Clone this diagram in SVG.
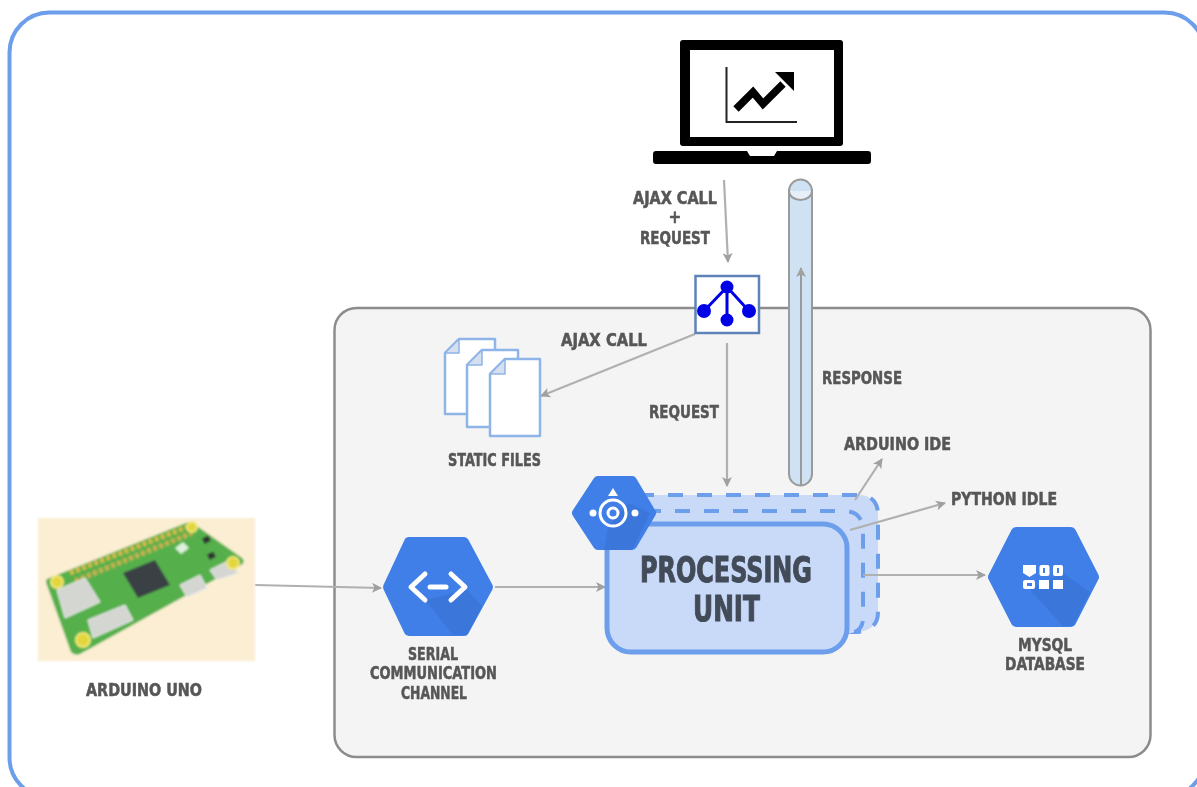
<svg xmlns="http://www.w3.org/2000/svg" width="1197" height="787" viewBox="0 0 1197 787">
<style>
text{font-family:"DejaVu Sans Condensed","DejaVu Sans",sans-serif;font-weight:700;font-stretch:condensed;fill:#575757;stroke:#575757;stroke-width:.5;font-size:17px}
.big{font-size:35px;fill:#434b59;stroke:#434b59;stroke-width:1}
.c{stroke:#b0b0b0;stroke-width:2.200;fill:none;marker-end:url(#a)}
.hex{fill:#3f7fe8;stroke:#3f7fe8;stroke-width:10;stroke-linejoin:round}
.sh{fill:#3468c8;opacity:.4}
.pg{fill:#fff;stroke:#8fb4e8;stroke-width:2.500;stroke-linejoin:round}
.dog{fill:#d5dff0;stroke:#8fb4e8;stroke-width:1.500;stroke-linejoin:round}
.dash{fill:#c9daf8;stroke:#6d9eeb;stroke-width:4;stroke-dasharray:15 14}
.w{fill:#fff}
.ws{fill:none;stroke:#fff;stroke-linecap:round;stroke-linejoin:round}
.port{fill:#d4d6d2;stroke:#eee;stroke-width:1}
.hole{fill:#e3d63c;stroke:#f1e77a;stroke-width:2}
</style>
<defs>
<marker id="a" markerWidth="11" markerHeight="10" refX="9" refY="5" orient="auto" markerUnits="userSpaceOnUse"><path d="M0 0L10 5L0 10L2.500 5Z" fill="#a0a0a0"/></marker>
<filter id="b" x="-5%" y="-5%" width="110%" height="110%"><feGaussianBlur stdDeviation=".6"/></filter>
<filter id="b2" x="-5%" y="-5%" width="110%" height="110%"><feGaussianBlur stdDeviation="1"/></filter>
</defs>
<rect width="1197" height="787" fill="#fff"/>
<g filter="url(#b)">
<rect id="frame" x="9.500" y="12.500" width="1195" height="785" rx="40" fill="#fff" stroke="#6d9eeb" stroke-width="4"/>
<rect id="panel" x="334.500" y="308" width="816" height="449" rx="22" fill="#f4f4f4" stroke="#8c8c8c" stroke-width="2.500"/>

<g id="laptop">
<rect x="680" y="40" width="163" height="106" rx="3" fill="#000"/>
<rect x="690" y="50" width="144" height="87" fill="#fff"/>
<path d="M653 154q0-3 3-3H747l3 5h24l3-5H868q3 0 3 3v7q0 3-3 3H656q-3 0-3-3Z" fill="#000"/>
<path d="M726.500 67V122H797" fill="none" stroke="#222" stroke-width="2"/>
<path d="M736 109L753 92L763 104L783 84" fill="none" stroke="#000" stroke-width="7.500"/>
<path d="M775 72H794V91Z" fill="#000"/>
</g>

<g id="connectors">
<path class="c" d="M724 180L728 262"/>
<path class="c" d="M695 334L541 396"/>
<path class="c" d="M727 343V486"/>
<path class="c" d="M255 585L381 588"/>
<path class="c" d="M495 587H605"/>
</g>

<g id="processing-unit">
<path class="dash" d="M610 495H858Q878 495 878 515V612Q878 630 858 632H640Z"/>
<path class="dash" stroke-dashoffset="8" d="M625 511H843Q863 511 863 531V618Q863 634 843 634H640Z"/>
<rect x="607" y="524" width="240" height="128" rx="24" fill="#c9daf8" stroke="#6d9eeb" stroke-width="5"/>
<text class="big" x="726" y="582" text-anchor="middle" textLength="172" lengthAdjust="spacingAndGlyphs">PROCESSING</text>
<text class="big" x="726.500" y="621" text-anchor="middle" textLength="67" lengthAdjust="spacingAndGlyphs">UNIT</text>
</g>

<g id="connectors-2">
<path class="c" d="M855 500L882 459"/>
<path class="c" d="M850 530L945 503"/>
<path class="c" d="M863 575H985"/>
</g>

<g id="compute-hex">
<path class="hex" d="M577 513L598 481H632L651 513L632 545H598Z"/>
<path class="sh" d="M608 527L628 503L650 513L632 550H604Z"/>
<path d="M613 488l5 8h-10Z" class="w"/>
<circle cx="613" cy="513" r="13" class="ws" stroke-width="3"/>
<circle cx="613" cy="513" r="5" class="ws" stroke-width="3"/>
<circle cx="593" cy="513" r="3.500" class="w"/>
<circle cx="635" cy="513" r="3.500" class="w"/>
</g>

<g id="cylinder">
<path d="M789 191a11.500 11.500 0 0 1 23 0V474a11.500 11.500 0 0 1-23 0Z" fill="#cfe2f3" stroke="#9a9a9a" stroke-width="2"/>
<path d="M789 191a11.500 9 0 0 0 23 0" fill="#e6eff8" stroke="#9a9a9a" stroke-width="2"/>
<path d="M801 485V268" stroke="#9a9a9a" stroke-width="2" fill="none" marker-end="url(#a)"/>
</g>

<g id="hub">
<rect x="695.500" y="276" width="63.500" height="57" fill="#fff" stroke="#5f82b8" stroke-width="2.500"/>
<path d="M727 287L704 311M727 287L749 311M727 287V320" stroke="#0000e6" stroke-width="3" fill="none"/>
<circle cx="727" cy="287" r="6.500" fill="#0000e6"/>
<circle cx="704" cy="311" r="7" fill="#0000e6"/>
<circle cx="749" cy="311" r="7" fill="#0000e6"/>
<circle cx="727" cy="320" r="6.500" fill="#0000e6"/>
</g>

<g id="static-files">
<path class="pg" d="M459 339H495V414H445V353Z"/><path class="dog" d="M459 339V353H445Z"/>
<path class="pg" d="M482 350H518V427H467V365Z"/><path class="dog" d="M482 350V365H467Z"/>
<path class="pg" d="M505 359H540V436H490V374Z"/><path class="dog" d="M505 359V374H490Z"/>
</g>

<g id="serial-hex">
<path class="hex" d="M388 587L409 542H464L488 587L464 631H409Z"/>
<path class="sh" d="M425 600L467 590L482 606L467 635H453Z"/>
<path class="ws" stroke-width="5" d="M425 574L411 587L425 600M451 574L465 587L451 600"/>
<path class="ws" stroke-width="5" d="M430 587H446"/>
</g>

<g id="mysql-hex">
<path class="hex" d="M993 577L1016 532H1071L1094 577L1071 622H1016Z"/>
<path class="sh" d="M1030 590L1063 573L1090 592L1073 626H1063Z"/>
<path class="w" d="M1023 565H1036V573L1029.500 577L1023 573Z"/>
<rect x="1039.500" y="565" width="10" height="11" rx="2" class="w"/>
<rect x="1053" y="565" width="10" height="11" rx="2" class="w"/>
<rect x="1023" y="580" width="12" height="9" rx="2" class="w"/>
<rect x="1039" y="580" width="10" height="9" class="w"/>
<rect x="1053" y="580" width="10" height="9" class="w"/>
<path d="M1044 568v5M1058 568v5" stroke="#3f7fe8" stroke-width="2"/>
<rect x="1027" y="583" width="5" height="3" fill="#3f7fe8"/>
</g>
</g>

<g id="arduino" filter="url(#b2)">
<rect x="38" y="518" width="217" height="143" fill="#fbeed2"/>
<path d="M47 579L186 523Q190 521 194 524L242 558Q246 562 241 565L80 654Q75 656 71 652L47 585Q45 581 47 579Z" fill="#55b04b"/>
<path d="M70 573L187 527" stroke="#d4b94a" stroke-width="5" stroke-dasharray="4 2.500" fill="none"/>
<path d="M75 581L192 533" stroke="#c9b04e" stroke-width="5" stroke-dasharray="4 2.500" fill="none"/>
<path d="M123 573L155 560L170 585L138 598Z" fill="#3a3f44"/>
<path class="port" d="M57 590L85 578L100 602L65 618Z"/>
<path class="port" d="M88 620L125 605L133 620L93 638Z"/>
<path class="port" d="M180 585L200 575L207 588L187 597Z"/>
<path class="port" d="M210 570L230 560L238 573L217 580Z"/>
<circle cx="57" cy="582" r="6" class="hole"/>
<circle cx="83" cy="640" r="7" class="hole"/>
<circle cx="233" cy="563" r="6" class="hole"/>
<circle cx="192" cy="527" r="5" class="hole"/>
<path d="M175 548l8-6 6 6-8 6Z" fill="#dff2dc"/>
<rect x="203" y="537" width="7" height="6" fill="#333" transform="rotate(-25 206 540)"/>
<rect x="208" y="553" width="7" height="6" fill="#333" transform="rotate(-25 211 556)"/>
</g>

<g id="labels" filter="url(#b)">
<text x="675" y="204" text-anchor="middle" textLength="84" lengthAdjust="spacingAndGlyphs">AJAX CALL</text>
<text x="675" y="223" text-anchor="middle">+</text>
<text x="675" y="244" text-anchor="middle" textLength="70" lengthAdjust="spacingAndGlyphs">REQUEST</text>
<text x="604" y="346" text-anchor="middle" textLength="86" lengthAdjust="spacingAndGlyphs">AJAX CALL</text>
<text x="684" y="418" text-anchor="middle" textLength="70" lengthAdjust="spacingAndGlyphs">REQUEST</text>
<text x="862" y="384" text-anchor="middle" textLength="80" lengthAdjust="spacingAndGlyphs">RESPONSE</text>
<text x="897.500" y="450" text-anchor="middle" textLength="107" lengthAdjust="spacingAndGlyphs">ARDUINO IDE</text>
<text x="1004" y="505" text-anchor="middle" textLength="106" lengthAdjust="spacingAndGlyphs">PYTHON IDLE</text>
<text x="494.500" y="466" text-anchor="middle" textLength="93" lengthAdjust="spacingAndGlyphs">STATIC FILES</text>
<text x="433" y="660" text-anchor="middle" textLength="50" lengthAdjust="spacingAndGlyphs">SERIAL</text>
<text x="433.500" y="679" text-anchor="middle" textLength="127" lengthAdjust="spacingAndGlyphs">COMMUNICATION</text>
<text x="434" y="699" text-anchor="middle" textLength="66" lengthAdjust="spacingAndGlyphs">CHANNEL</text>
<text x="1045" y="651" text-anchor="middle" textLength="54" lengthAdjust="spacingAndGlyphs">MYSQL</text>
<text x="1045" y="670" text-anchor="middle" textLength="80" lengthAdjust="spacingAndGlyphs">DATABASE</text>
<text x="144" y="696" text-anchor="middle" textLength="116" lengthAdjust="spacingAndGlyphs">ARDUINO UNO</text>
</g>
</svg>
